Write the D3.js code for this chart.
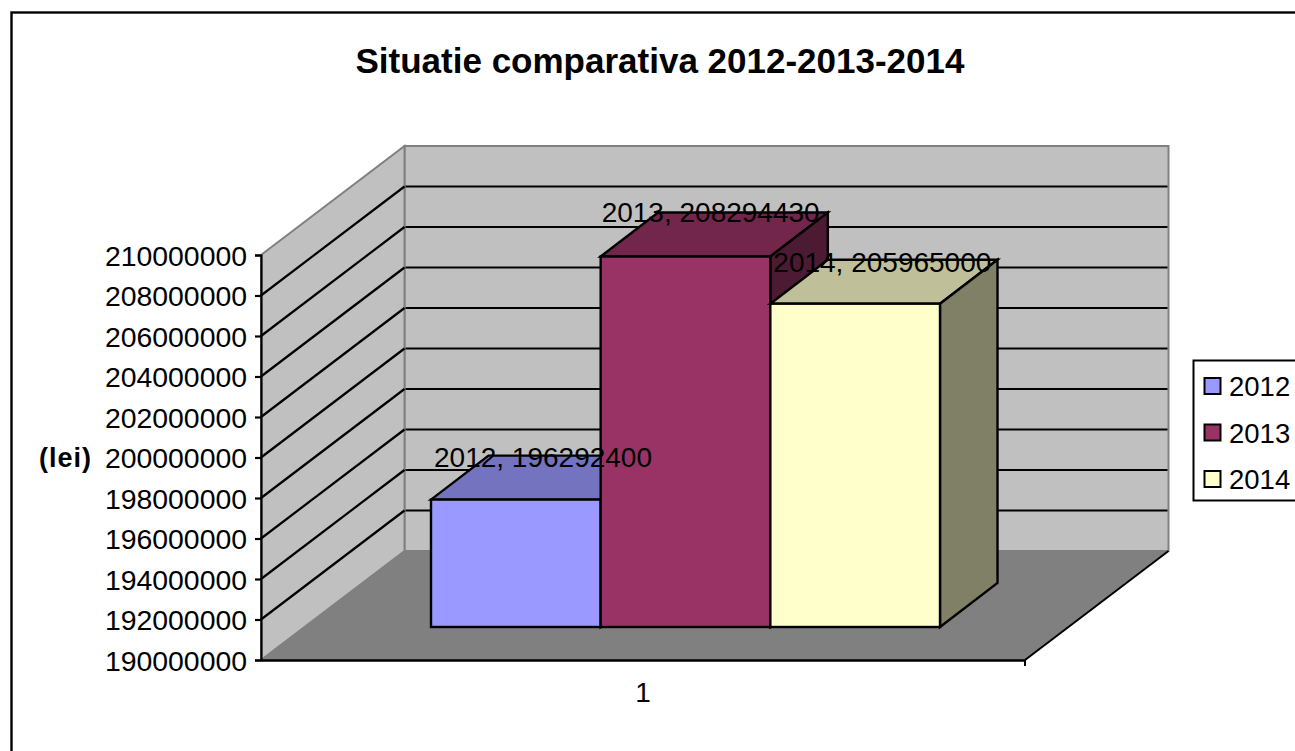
<!DOCTYPE html>
<html><head><meta charset="utf-8">
<script src="https://cdn.jsdelivr.net/npm/d3@7/dist/d3.min.js"></script>
<style>
html,body{margin:0;padding:0;background:#fff;overflow:hidden}
text{font-family:"Liberation Sans",Arial,sans-serif;fill:#000}
</style></head><body>
<svg id="c" width="1295" height="751"></svg>
<script>
const titleText = "Situatie comparativa 2012-2013-2014";
const unitLabel = "(lei)";
const categories = ["1"];
const seriesNames = ["2012", "2013", "2014"];
const seriesValues = [196292400, 208294430, 205965000];
const frontColors = ["#9999ff", "#993366", "#ffffcc"];
const topColors = ["#7373bf", "#73264c", "#bfbf99"];
const sideColors = ["#5c5c99", "#4d1a33", "#808066"];
const yTicks = d3.range(190000000, 210000001, 2000000);

const svg = d3.select("#c");
const W = 1295, H = 751;
const fs = 28;

// frame
svg.append("rect").attr("x", 11.5).attr("y", 12.5).attr("width", W + 20).attr("height", H + 20)
  .attr("fill", "#fff").attr("stroke", "#000").attr("stroke-width", 2.4);

// projection
const y = d3.scaleLinear().domain([190000000, 210000000]).range([660, 255]);
const x0 = 261, x1 = 1025, floorY = 660;
const wallDX = 143.5, wallDY = -109;
const xCat = d3.scaleBand().domain(categories).range([x0, x1]);
const pts = a => a.map(p => p.join(",")).join(" ");

// back wall
svg.append("polygon").attr("points", pts([[x0 + wallDX, y(210000000) + wallDY], [x1 + wallDX, y(210000000) + wallDY], [x1 + wallDX, floorY + wallDY], [x0 + wallDX, floorY + wallDY]]))
  .attr("fill", "#c0c0c0").attr("stroke", "#808080").attr("stroke-width", 2);
// side wall
svg.append("polygon").attr("points", pts([[x0, y(210000000)], [x0 + wallDX, y(210000000) + wallDY], [x0 + wallDX, floorY + wallDY], [x0, floorY]]))
  .attr("fill", "#c0c0c0").attr("stroke", "#808080").attr("stroke-width", 2);
// floor
svg.append("polygon").attr("points", pts([[x0, floorY], [x0 + wallDX, floorY + wallDY], [x1 + wallDX, floorY + wallDY], [x1, floorY]]))
  .attr("fill", "#808080");
svg.append("line").attr("x1", x1).attr("y1", floorY).attr("x2", x1 + wallDX).attr("y2", floorY + wallDY)
  .attr("stroke", "#000").attr("stroke-width", 2);

// gridlines
const inner = yTicks.filter(t => t > 190000000 && t < 210000000);
svg.append("g").selectAll("line").data(inner).join("line")
  .attr("x1", x0 + wallDX + 1).attr("x2", x1 + wallDX - 1)
  .attr("y1", d => y(d) + wallDY).attr("y2", d => y(d) + wallDY)
  .attr("stroke", "#000").attr("stroke-width", 2.2);
svg.append("g").selectAll("line").data(inner).join("line")
  .attr("x1", x0).attr("x2", x0 + wallDX)
  .attr("y1", d => y(d)).attr("y2", d => y(d) + wallDY)
  .attr("stroke", "#000").attr("stroke-width", 2.2);

// y axis
const yAxis = svg.append("g").attr("transform", `translate(${x0},0)`)
  .call(d3.axisLeft(y).tickValues(yTicks).tickFormat(d3.format("d")).tickSize(6).tickPadding(8));
yAxis.selectAll("text").attr("font-size", 28.4).attr("dy", "0.36em");
yAxis.selectAll("line").attr("stroke", "#000").attr("stroke-width", 2.2);
yAxis.select("path").attr("stroke", "#000").attr("stroke-width", 2.2).attr("fill", "none");

// x axis
const xAxis = svg.append("g").attr("transform", `translate(0,${floorY})`)
  .call(d3.axisBottom(xCat).tickSize(0).tickPadding(22));
xAxis.selectAll("text").attr("font-size", fs).attr("fill", "#000");
xAxis.select("path").attr("stroke", "#000").attr("stroke-width", 2.6).attr("fill", "none");
svg.append("line").attr("x1", x1).attr("x2", x1).attr("y1", floorY).attr("y2", floorY + 6).attr("stroke", "#000").attr("stroke-width", 2);

// bars
const barBase = 627;
const barLift = barBase - floorY;
const xBar = d3.scaleBand().domain(seriesNames).range([431, 940]);
const depthX = 57.5, depthY = -44;
const vy = v => y(v) + barLift;
const bars = svg.append("g");
seriesNames.forEach((name, i) => {
  const v = seriesValues[i], l = xBar(name), r = l + xBar.bandwidth(), t = vy(v), b = barBase;
  const g = bars.append("g").attr("stroke", "#000").attr("stroke-width", 2.4).attr("stroke-linejoin", "miter");
  g.append("polygon").attr("points", pts([[l, t], [l + depthX, t + depthY], [r + depthX, t + depthY], [r, t]])).attr("fill", topColors[i]);
  g.append("polygon").attr("points", pts([[r, t], [r + depthX, t + depthY], [r + depthX, b + depthY], [r, b]])).attr("fill", sideColors[i]);
  g.append("rect").attr("x", l).attr("y", t).attr("width", r - l).attr("height", b - t).attr("fill", frontColors[i]);
});

// data labels
const labelDX = [3, 1, 3], labelDY = [-33, -35, -32];
svg.append("g").selectAll("text").data(seriesNames).join("text")
  .attr("x", (d, i) => xBar(d) + labelDX[i])
  .attr("y", (d, i) => vy(seriesValues[i]) + labelDY[i])
  .attr("font-size", fs)
  .text((d, i) => `${d}, ${seriesValues[i]}`);

// title
svg.append("text").attr("x", 660).attr("y", 73).attr("text-anchor", "middle")
  .attr("font-size", 35).attr("font-weight", "bold").text(titleText);
// unit
svg.append("text").attr("x", 39).attr("y", 467).attr("font-size", 27).attr("font-weight", "bold")
  .attr("letter-spacing", 1).text(unitLabel);

// legend
svg.append("rect").attr("x", 1193.5).attr("y", 360.5).attr("width", 120).attr("height", 140)
  .attr("fill", "#fff").attr("stroke", "#000").attr("stroke-width", 2);
const legendY = d3.scalePoint().domain(seriesNames).range([386, 479]);
const leg = svg.append("g").selectAll("g").data(seriesNames).join("g")
  .attr("transform", d => `translate(0,${legendY(d)})`);
leg.append("rect").attr("x", 1204.5).attr("y", -8).attr("width", 16).attr("height", 16)
  .attr("fill", (d, i) => frontColors[i]).attr("stroke", "#000").attr("stroke-width", 2);
leg.append("text").attr("x", 1229).attr("y", 10).attr("font-size", 27.5).text(d => d);
</script>
</body></html>
